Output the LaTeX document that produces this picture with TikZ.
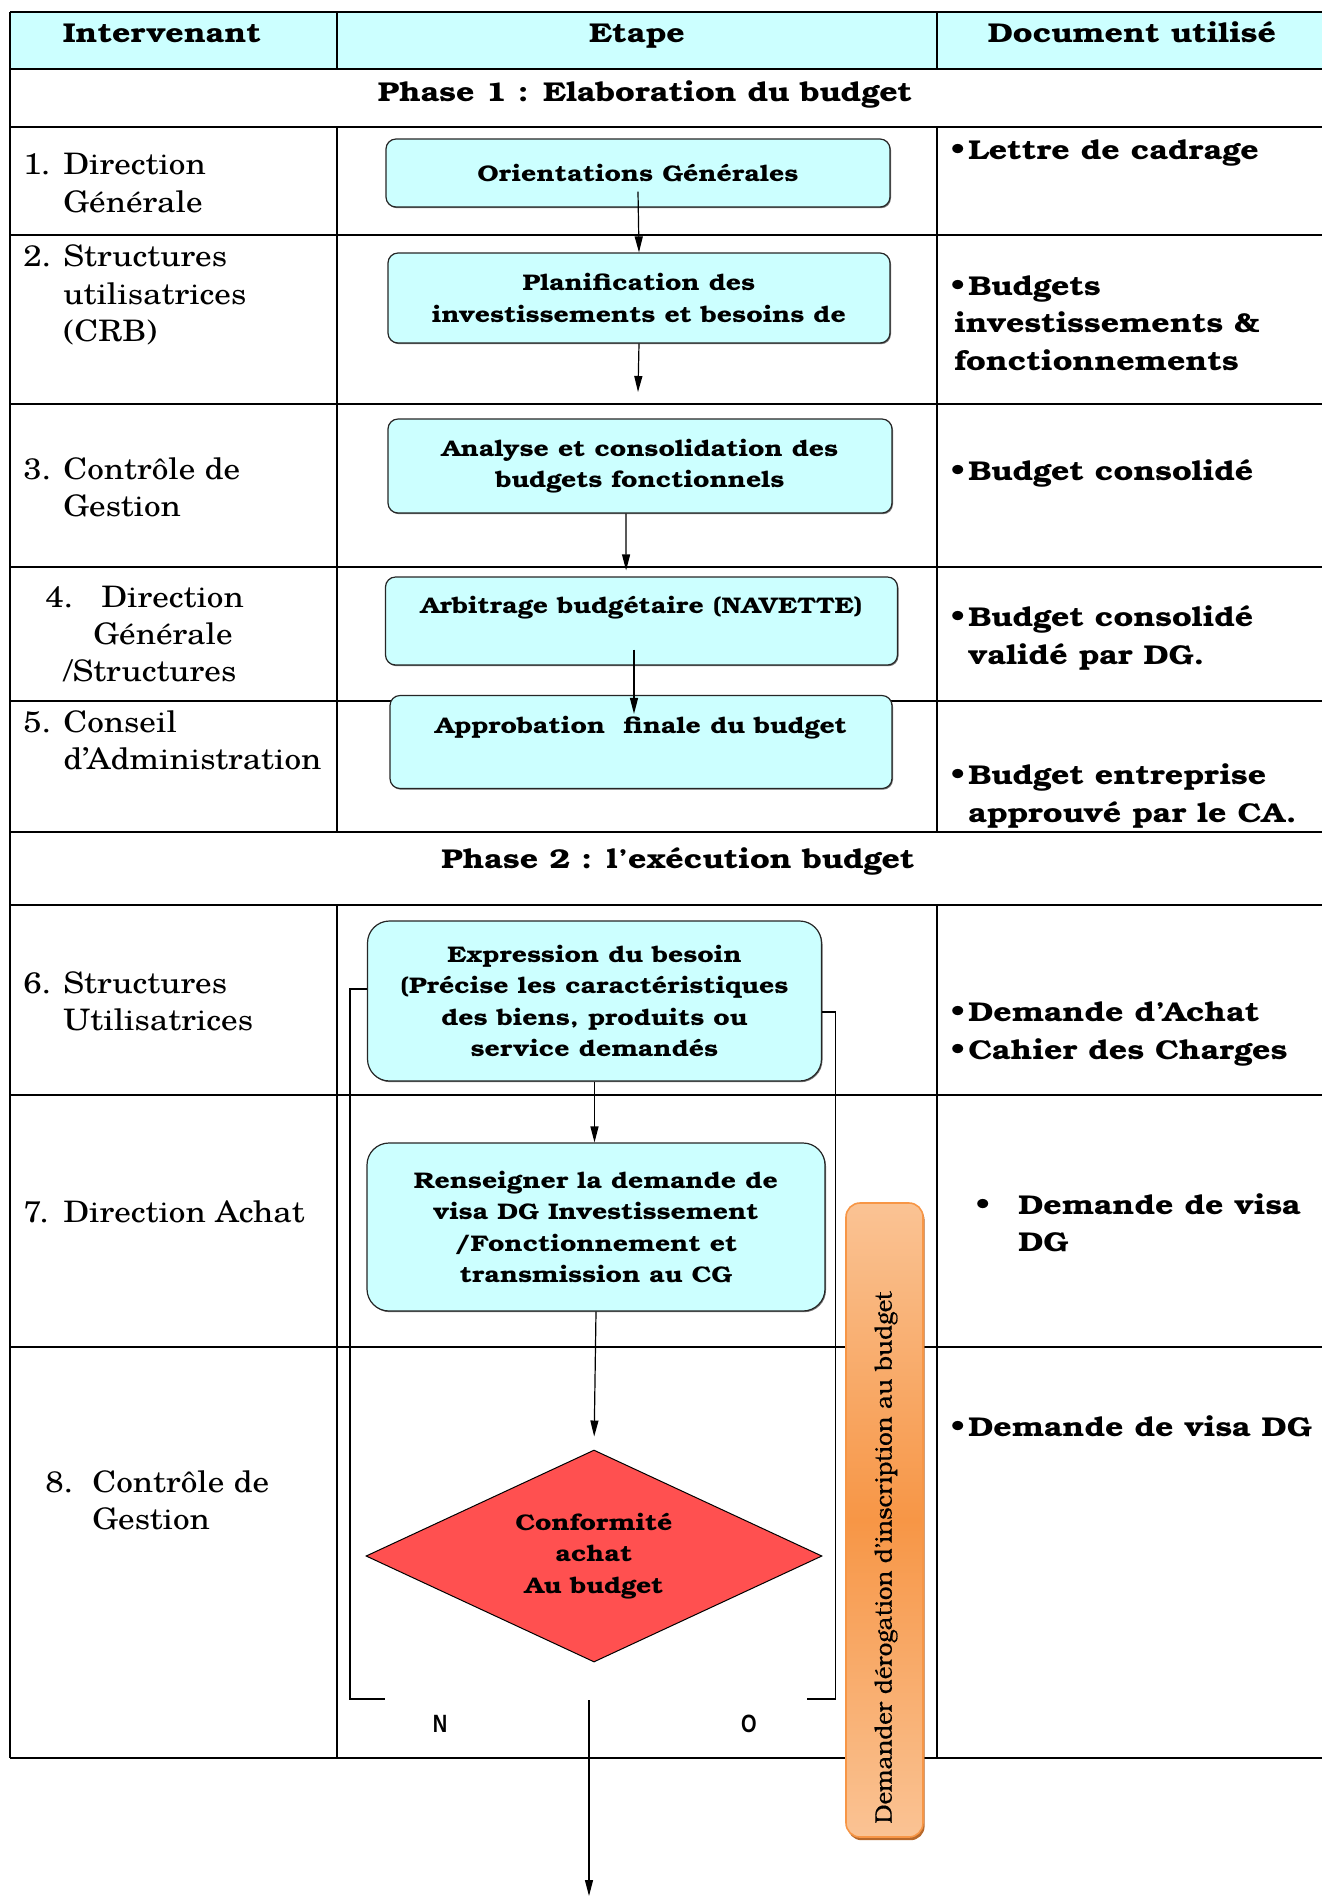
\documentclass[tikz,border=0pt]{standalone}
\usepackage{fontspec}
\setmainfont[FakeStretch=1.12]{TeX Gyre Schola}
\newfontfamily\bonum[FakeStretch=1.18]{TeX Gyre Bonum}
\newfontfamily\bonumplain[FakeBold=0.6]{TeX Gyre Bonum}
\newfontfamily\narrowfont[FakeStretch=0.8]{Liberation Sans Bold}
\usepackage{tikz}
\usetikzlibrary{shapes,arrows,arrows.meta,positioning,fit,backgrounds,shadows}

\definecolor{cyanbox}{HTML}{CCFFFF}
\definecolor{rouge}{HTML}{FF5050}
\definecolor{orangemid}{HTML}{F79646}
\definecolor{orangelight}{HTML}{FAC394}
\definecolor{orangeshadow}{HTML}{B8692B}

\newcommand{\numero}[1]{\makebox[20pt][l]{#1}}
\newcommand{\puce}[1][9pt]{\makebox[#1][l]{\textbullet}}

\begin{document}
\begin{tikzpicture}[
    x=0.5pt, y=-0.5pt,
    hline/.style={line width=1.1pt, draw=black},
    vline/.style={line width=0.8pt, draw=black},
    head/.style={anchor=base, font=\bonum\bfseries\fontsize{13.6}{16}\selectfont},
    interv/.style={anchor=west, align=left, inner sep=0pt, font=\fontsize{14.8}{18.6}\selectfont},
    doc/.style={anchor=west, align=left, inner sep=0pt, font=\bonum\bfseries\fontsize{13.6}{18.7}\selectfont},
    etape/.style={rectangle, rounded corners=5pt, draw=black!85, line width=0.6pt, fill=cyanbox, align=center, inner sep=2pt,
        font=\bonum\bfseries\fontsize{11.3}{15.6}\selectfont, drop shadow={shadow xshift=0.5pt, shadow yshift=-0.6pt, fill=black!55, opacity=1}},
    decision/.style={diamond, shape aspect=2.15, draw=black, line width=0.5pt, fill=rouge, inner sep=0pt, align=center,
        font=\bonum\bfseries\fontsize{11.3}{15.6}\selectfont},
    derog/.style={rectangle, rounded corners=7pt, draw=orangemid, line width=0.8pt,
        top color=orangelight, bottom color=orangelight, middle color=orangemid,
        drop shadow={shadow xshift=0.8pt, shadow yshift=-1.6pt, fill=orangeshadow, opacity=1}},
    derogtext/.style={rotate=90, anchor=west, inner sep=0pt, font=\bonumplain\fontsize{12}{14}\selectfont},
    arrow/.style={-{Triangle[length=8pt,width=4pt]}, line width=0.6pt, draw=black},
    flow/.style={line width=0.6pt, draw=black},
    choix/.style={font=\narrowfont\fontsize{12.5}{14}\selectfont},
]
    \useasboundingbox (0,0) rectangle (1322,1897);

    \fill[cyanbox] (10,12) rectangle (1322,69);
    \foreach \y in {12,69,127,235,404,567,701,832,905,1095,1347,1758}
        \draw[hline] (10,\y) -- (1322,\y);
    \draw[vline] (10,12) -- (10,1758);
    \foreach \x in {337,937} {
        \draw[vline] (\x,12) -- (\x,69);
        \draw[vline] (\x,127) -- (\x,832);
        \draw[vline] (\x,905) -- (\x,1758);
    }

    \node[head] (hinterv) at (162,42) {Intervenant};
    \node[head] (hetape) at (637,42) {Etape};
    \node[head] (hdoc) at (1132,42) {Document utilisé};
    \node[head] (phase1) at (645,101) {Phase 1 : Elaboration du budget};
    \node[head] (phase2) at (678,868) {Phase 2 : l’exécution budget};

    \node[interv] (i1) at (23,183) {\numero{1.}Direction\\\hspace*{20pt}Générale};
    \node[interv] (i2) at (23,295) {\numero{2.}Structures\\\hspace*{20pt}utilisatrices\\\hspace*{20pt}(CRB)};
    \node[interv] (i3) at (23,487) {\numero{3.}Contrôle de\\\hspace*{20pt}Gestion};
    \node[interv] (i4) at (45,634) {\makebox[28pt][l]{4.}Direction\\\hspace*{24pt}Générale\\\hspace*{9pt}/Structures};
    \node[interv] (i5) at (23,740) {\numero{5.}Conseil\\\hspace*{20pt}d’Administration};
    \node[interv] (i6) at (23,1001) {\numero{6.}Structures\\\hspace*{20pt}Utilisatrices};
    \node[interv] (i7) at (23,1212) {\numero{7.}Direction Achat};
    \node[interv] (i8) at (45,1500) {\makebox[23.5pt][l]{8.}Contrôle de\\\hspace*{23.5pt}Gestion};

    \node[doc] (d1) at (950,153) {\puce Lettre de cadrage};
    \node[doc] (d2) at (950,323) {\puce Budgets\\\hspace*{2pt}investissements \&\\\hspace*{2pt}fonctionnements};
    \node[doc] (d3) at (950,473) {\puce Budget consolidé};
    \node[doc] (d4) at (950,638) {\puce Budget consolidé\\\hspace*{9pt}validé par DG.};
    \node[doc] (d5) at (950,796) {\puce Budget entreprise\\\hspace*{9pt}approuvé par le CA.};
    \node[doc] (d6) at (950,1034) {\puce Demande d’Achat\\\puce Cahier des Charges};
    \node[doc] (d7) at (975,1223) {\puce[21.5pt]Demande de visa\\\hspace*{21.5pt}DG};
    \node[doc] (d8) at (950,1426) {\puce Demande de visa DG};

    \node[etape, minimum width=252pt, minimum height=34pt] (orient) at (638,173) {Orientations Générales};
    \node[etape, minimum width=251pt, minimum height=45pt] (planif) at (639,298) {Planification des\\investissements et besoins de};
    \node[etape, minimum width=252pt, minimum height=47pt] (consol) at (640,466) {Analyse et consolidation des\\budgets fonctionnels};
    \node[etape, minimum width=256pt, minimum height=44pt, text depth=16pt] (arbit) at (641.5,621) {Arbitrage budgétaire (NAVETTE)};
    \node[etape, minimum width=251pt, minimum height=46.5pt, text depth=17pt] (approb) at (641,742) {Approbation~ finale du budget};

    \node[etape, minimum width=227pt, minimum height=80pt, rounded corners=11pt] (besoin) at (594.5,1001) {Expression du besoin\\(Précise les caractéristiques\\des biens, produits ou\\service demandés};
    \node[etape, minimum width=229pt, minimum height=84pt, rounded corners=11pt] (renseig) at (596,1227) {Renseigner la demande de\\visa DG Investissement\\/Fonctionnement et\\transmission au CG};
    \node[decision, minimum width=228pt, minimum height=106pt] (conform) at (594,1556) {Conformité\\achat\\Au budget};

    \node[derog, minimum width=38.5pt, minimum height=317pt] (derogation) at (884.5,1520) {};
    \node[derogtext] (derogtxt) at (886,1824) {Demander dérogation d’inscription au budget};

    \coordinate (nend) at (385,1699);
    \coordinate (oend) at (807,1699);
    \coordinate (sortie) at (589,1700);
    \coordinate (suite) at (589,1896);
    \coordinate (a2end) at (638,392);

    \node[choix] (labn) at (440,1724) {N};
    \node[choix] (labo) at (749,1724) {O};

    \draw[arrow] ([yshift=8pt]orient.south) -- (planif.north);
    \draw[arrow] (planif.south) -- (a2end);
    \draw[arrow] ([xshift=-7pt]consol.south) -- ([xshift=-7.7pt,yshift=3pt]arbit.north);
    \draw[arrow] ([xshift=-3.75pt,yshift=8pt]arbit.south) -- ([xshift=-3.5pt,yshift=-9.5pt]approb.north);
    \draw[arrow] (besoin.south) -- (besoin.south |- renseig.north);
    \draw[arrow, shorten >=6.5pt] (renseig.south) -- (conform.north);
    \draw[flow] ([yshift=6pt]besoin.west) -- ++(-17,0) |- (nend);
    \draw[flow] ([yshift=-5.5pt]besoin.east) -- ++(13,0) |- (oend);
    \draw[arrow] (sortie) -- (suite);

\end{tikzpicture}
\end{document}
